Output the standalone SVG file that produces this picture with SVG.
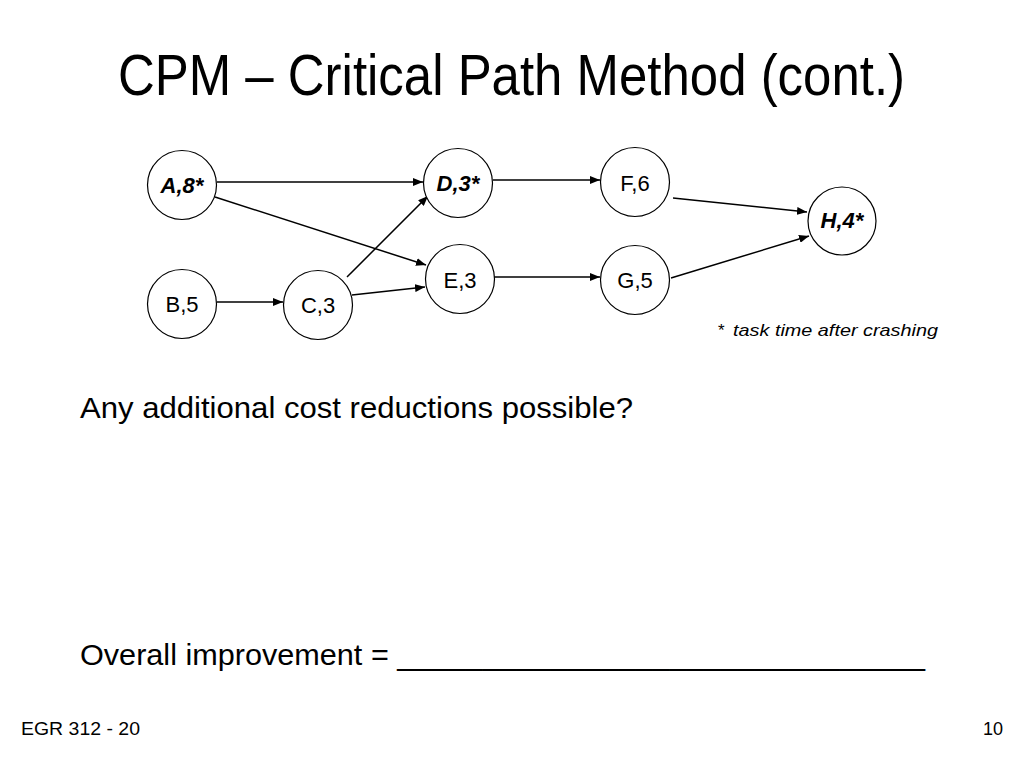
<svg xmlns="http://www.w3.org/2000/svg" width="1024" height="768" viewBox="0 0 1024 768">
<defs>
<marker id="arr" markerWidth="10" markerHeight="8" refX="10" refY="4" orient="auto" markerUnits="userSpaceOnUse">
<path d="M0,0 L10,4 L0,8 z" fill="#000"/>
</marker>
<style>
.n{fill:#fff;stroke:#000;stroke-width:1.2}
.t{font-family:"Liberation Sans",Arial,sans-serif;font-size:22px;text-anchor:middle;fill:#000}
.c{font-weight:bold;font-style:italic}
.e{stroke:#000;stroke-width:1.5;fill:none;marker-end:url(#arr)}
.txt{font-family:"Liberation Sans",Arial,sans-serif;fill:#000}
</style>
</defs>
<rect width="1024" height="768" fill="#fff"/>
<text class="txt" x="118" y="95" font-size="57" textLength="787" lengthAdjust="spacingAndGlyphs">CPM – Critical Path Method (cont.)</text>
<g id="connectors">
<line class="e" x1="217" y1="182" x2="423" y2="182"/>
<line class="e" x1="215" y1="197" x2="426" y2="265"/>
<line class="e" x1="217" y1="302" x2="283" y2="302"/>
<line class="e" x1="347" y1="277" x2="428" y2="196"/>
<line class="e" x1="352" y1="295" x2="425" y2="287"/>
<line class="e" x1="493" y1="180" x2="600" y2="180"/>
<line class="e" x1="494" y1="277" x2="600" y2="277"/>
<line class="e" x1="673" y1="198" x2="807" y2="212"/>
<line class="e" x1="671" y1="278" x2="809" y2="236"/>
</g>
<g id="A"><circle class="n" cx="182" cy="185" r="34.5"/><text class="t c" x="182" y="193">A,8*</text></g>
<g id="D"><circle class="n" cx="458" cy="183" r="34.5"/><text class="t c" x="458" y="191">D,3*</text></g>
<g id="B"><circle class="n" cx="182" cy="304" r="34.5"/><text class="t" x="182" y="312">B,5</text></g>
<g id="C"><circle class="n" cx="318" cy="305" r="34.5"/><text class="t" x="318" y="313">C,3</text></g>
<g id="E"><circle class="n" cx="460" cy="279" r="34.5"/><text class="t" x="460" y="288">E,3</text></g>
<g id="F"><circle class="n" cx="635" cy="182" r="34.5"/><text class="t" x="635" y="191">F,6</text></g>
<g id="G"><circle class="n" cx="635" cy="280" r="34.5"/><text class="t" x="635" y="288">G,5</text></g>
<g id="H"><circle class="n" cx="842" cy="221" r="34"/><text class="t c" x="842" y="228">H,4*</text></g>
<text class="txt" x="718" y="336" font-size="17">*</text>
<text class="txt" x="733" y="336" font-size="17" font-style="italic" textLength="205" lengthAdjust="spacingAndGlyphs">task time after crashing</text>
<text class="txt" x="80" y="418" font-size="29" textLength="553" lengthAdjust="spacingAndGlyphs">Any additional cost reductions possible?</text>
<text class="txt" x="80" y="665" font-size="29" textLength="845" lengthAdjust="spacingAndGlyphs">Overall improvement = _______________________________</text>
<text class="txt" x="21" y="735" font-size="18" textLength="119" lengthAdjust="spacingAndGlyphs">EGR 312 - 20</text>
<text class="txt" x="1003" y="735" font-size="18" text-anchor="end">10</text>
</svg>
